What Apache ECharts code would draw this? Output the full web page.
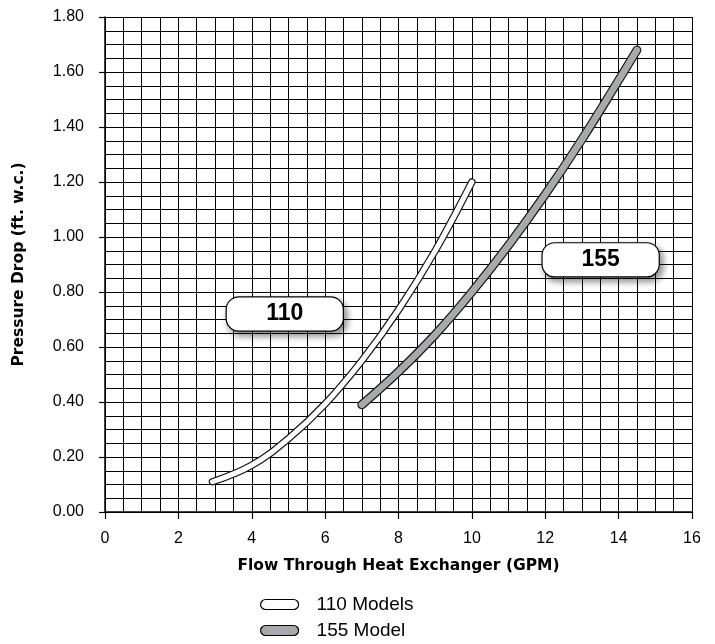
<!DOCTYPE html>
<html>
<head>
<meta charset="utf-8">
<script src="https://cdn.jsdelivr.net/npm/echarts@6/dist/echarts.min.js"></script>
<style>
  html, body { margin: 0; padding: 0; background: #fff; }
  #chart { width: 715px; height: 644px; }
</style>
</head>
<body>
<div id="chart"></div>
<script>
  // curve points: [GPM, ft. w.c.]
  var curve110 = [[2.93, 0.11], [4, 0.17], [5, 0.267], [6, 0.393], [7, 0.55], [8, 0.735], [9, 0.95], [10, 1.2]];
  var curve155 = [[7, 0.39], [8, 0.51], [9, 0.645], [10, 0.8], [11, 0.97], [12, 1.155], [13, 1.355], [14, 1.57], [14.5, 1.68]];
  var seriesNames = ['110 Models', '155 Model'];
  var fillColors = ['#ffffff', '#a7a9ac'];
  var boxLabels = ['110', '155'];
  var boxPoints = [[4.9, 0.72], [13.51, 0.917]];

  var chart = echarts.init(document.getElementById('chart'));
  var fontFam = '"Liberation Sans", Arial, sans-serif';
  var titleFam = '"DejaVu Sans", "Liberation Sans", sans-serif';
  var capsule = 'path://M5,0 L33,0 A5,5 0 0 1 33,10 L5,10 A5,5 0 0 1 5,0 Z';

  function outline(name, data, w) {
    return {
      name: name, type: 'line', data: data, smooth: 0.4, symbol: 'none',
      silent: true, z: 3,
      lineStyle: { color: '#1a1a1a', width: w, cap: 'round', join: 'round' }
    };
  }
  function fill(name, data, color, w) {
    return {
      name: name, type: 'line', data: data, smooth: 0.4, symbol: 'none',
      silent: true, z: 4, color: color,
      itemStyle: { color: color, borderColor: '#000', borderWidth: 1.2 },
      lineStyle: { color: color, width: w, cap: 'round', join: 'round' }
    };
  }

  var boxData = boxPoints.map(function (p, i) {
    return { value: p, name: boxLabels[i] };
  });

  var option = {
    animation: false,
    textStyle: { fontFamily: fontFam },
    grid: { left: 105, right: 23, top: 17, bottom: 132 },
    legend: {
      orient: 'vertical', left: 260, bottom: 4, padding: 0,
      itemWidth: 38, itemHeight: 10, itemGap: 7,
      icon: capsule,
      textStyle: { fontSize: 19, color: '#000', fontFamily: fontFam, padding: [0, 0, 0, 13] },
      data: [
        { name: seriesNames[0], itemStyle: { color: fillColors[0], borderColor: '#000', borderWidth: 1.2 } },
        { name: seriesNames[1], itemStyle: { color: fillColors[1], borderColor: '#000', borderWidth: 1.2 } }
      ]
    },
    xAxis: {
      type: 'value', min: 0, max: 16, interval: 2,
      name: 'Flow Through Heat Exchanger (GPM)', nameLocation: 'middle', nameGap: 46,
      nameTextStyle: { fontSize: 15.5, fontWeight: 'bold', color: '#000', fontFamily: titleFam },
      axisLine: { show: true, lineStyle: { color: '#000', width: 1.5 } },
      axisTick: { show: true, length: 7, lineStyle: { color: '#000', width: 1.2 } },
      axisLabel: { fontSize: 16, color: '#000', margin: 19 },
      splitLine: { show: true, lineStyle: { color: '#000', width: 1 } },
      minorTick: { show: false, splitNumber: 4 },
      minorSplitLine: { show: true, lineStyle: { color: '#000', width: 1 } }
    },
    yAxis: {
      type: 'value', min: 0, max: 1.8, interval: 0.2,
      name: 'Pressure Drop (ft. w.c.)', nameLocation: 'middle', nameGap: 78,
      nameTextStyle: { fontSize: 15.5, fontWeight: 'bold', color: '#000', fontFamily: titleFam },
      axisLine: { show: true, lineStyle: { color: '#000', width: 1.5 } },
      axisTick: { show: true, length: 6, lineStyle: { color: '#000', width: 1.2 } },
      axisLabel: { fontSize: 16, color: '#000', margin: 21,
        formatter: function (v) { return v.toFixed(2); } },
      splitLine: { show: true, lineStyle: { color: '#000', width: 1 } },
      minorTick: { show: false, splitNumber: 4 },
      minorSplitLine: { show: true, lineStyle: { color: '#000', width: 1 } }
    },
    series: [
      outline('o110', curve110, 7.5),
      fill(seriesNames[0], curve110, fillColors[0], 5),
      outline('o155', curve155, 9),
      fill(seriesNames[1], curve155, fillColors[1], 6.5),
      {
        name: 'boxes', type: 'scatter', data: boxData, symbolSize: 1,
        itemStyle: { color: 'rgba(0,0,0,0)', opacity: 1 }, silent: true, z: 6,
        label: {
          show: true, position: 'inside',
          formatter: function (p) { return p.name; },
          width: 116, height: 33, lineHeight: 33, align: 'center',
          fontSize: 23, fontWeight: 'bold', color: '#000',
          backgroundColor: '#fff', borderColor: '#000', borderWidth: 1.2,
          borderRadius: 12,
          shadowColor: 'rgba(0,0,0,0.45)', shadowBlur: 7,
          shadowOffsetX: 3, shadowOffsetY: 4,
          textShadowColor: 'transparent'
        }
      }
    ]
  };

  chart.setOption(option);
</script>
</body>
</html>
